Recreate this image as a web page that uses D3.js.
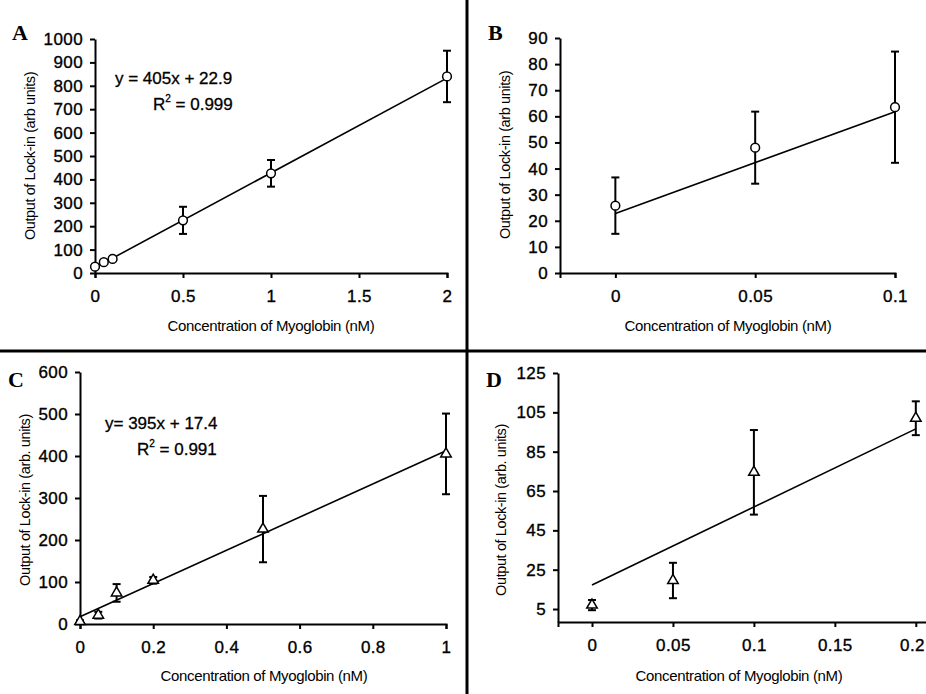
<!DOCTYPE html>
<html>
<head>
<meta charset="utf-8">
<script src="https://cdn.jsdelivr.net/npm/d3@7"></script>
<style>
  body { margin: 0; background: #fff; }
  text { font-family: "Liberation Sans", Arial, sans-serif; fill: #000; }
</style>
</head>
<body>
<script>
// panel A - circles
var aConc = [0, 0.05, 0.1, 0.5, 1, 2];
var aOut = [27, 46, 60, 225, 426, 840];
var aErr = [7, 7, 8, 58, 57, 110];
var aFit = [405, 22.9];
var aXTicks = [0, 0.5, 1, 1.5, 2];
var aYTicks = [0, 100, 200, 300, 400, 500, 600, 700, 800, 900, 1000];

// panel B - circles
var bConc = [0, 0.05, 0.1];
var bOut = [25.8, 48, 63.5];
var bErr = [10.8, 13.8, 21.3];
var bFit = [390, 22.8];
var bXTicks = [0, 0.05, 0.1];
var bYTicks = [0, 10, 20, 30, 40, 50, 60, 70, 80, 90];

// panel C - triangles
var cConc = [0, 0.05, 0.1, 0.2, 0.5, 1];
var cOut = [6, 21, 74, 104, 226, 405];
var cErr = [3, 8, 21, 8, 79, 96];
var cFit = [395, 17.4];
var cXTicks = [0, 0.2, 0.4, 0.6, 0.8, 1];
var cYTicks = [0, 100, 200, 300, 400, 500, 600];

// panel D - triangles
var dConc = [0, 0.05, 0.1, 0.2];
var dOut = [7, 19.5, 74.5, 102];
var dErr = [2.6, 9, 21.5, 8.6];
var dFit = [397, 17.2];
var dXTicks = [0, 0.05, 0.1, 0.15, 0.2];
var dYTicks = [5, 25, 45, 65, 85, 105, 125];

var xTitle = 'Concentration of Myoglobin (nM)';

var svg = d3.select('body').append('svg').attr('width', 926).attr('height', 694);

// dividers
svg.append('line').attr('x1', 0).attr('x2', 926).attr('y1', 351).attr('y2', 351)
  .attr('stroke', '#000').attr('stroke-width', 3);
svg.append('line').attr('x1', 467).attr('x2', 467).attr('y1', 0).attr('y2', 694)
  .attr('stroke', '#000').attr('stroke-width', 3);

function drawPanel(p) {
  var x = d3.scaleLinear().domain(p.xDom).range(p.xRange);
  var y = d3.scaleLinear().domain(p.yDom).range(p.yRange);
  var g = svg.append('g');

  var xAxis = d3.axisBottom(x).tickValues(p.xTicks).tickSize(5).tickSizeOuter(5).tickPadding(12)
    .tickFormat(function(d) { return String(d); });
  var yAxis = d3.axisLeft(y).tickValues(p.yTicks).tickSize(5).tickSizeOuter(0).tickPadding(7)
    .tickFormat(function(d) { return String(d); });

  var gx = g.append('g').attr('transform', 'translate(0,' + p.yRange[0] + ')').call(xAxis);
  var gy = g.append('g').attr('transform', 'translate(' + p.xRange[0] + ',0)').call(yAxis);
  [gx, gy].forEach(function(a) {
    a.select('.domain').attr('stroke', '#000').attr('stroke-width', 2);
    a.selectAll('.tick line').attr('stroke', '#000').attr('stroke-width', 2);
    a.selectAll('.tick text').attr('font-size', 17).attr('fill', '#000')
      .attr('stroke', '#000').attr('stroke-width', 0.35)
      .attr('font-family', '"Liberation Sans", Arial, sans-serif').style('letter-spacing', '0.4px');
  });
  // keep the last label inside the picture edge
  gx.selectAll('.tick text').attr('dx', function(d) {
    return x(d) + 14 > 926 ? (926 - 14 - x(d)) : 0;
  });

  // fit line
  var x0 = d3.min(p.conc), x1 = d3.max(p.conc);
  g.append('line')
    .attr('x1', x(x0)).attr('y1', y(p.fit[0] * x0 + p.fit[1]))
    .attr('x2', x(x1)).attr('y2', y(p.fit[0] * x1 + p.fit[1]))
    .attr('stroke', '#000').attr('stroke-width', 1.6);

  var pts = p.conc.map(function(c, i) { return {c: c, v: p.out[i], e: p.err[i]}; });

  // error bars
  var eb = g.selectAll('g.eb').data(pts).enter().append('g').attr('class', 'eb')
    .attr('stroke', '#000').attr('stroke-width', 2);
  eb.append('line')
    .attr('x1', function(d) { return x(d.c); }).attr('x2', function(d) { return x(d.c); })
    .attr('y1', function(d) { return y(d.v - d.e); }).attr('y2', function(d) { return y(d.v + d.e); });
  eb.append('line')
    .attr('x1', function(d) { return x(d.c) - 4; }).attr('x2', function(d) { return x(d.c) + 4; })
    .attr('y1', function(d) { return y(d.v + d.e); }).attr('y2', function(d) { return y(d.v + d.e); });
  eb.append('line')
    .attr('x1', function(d) { return x(d.c) - 4; }).attr('x2', function(d) { return x(d.c) + 4; })
    .attr('y1', function(d) { return y(d.v - d.e); }).attr('y2', function(d) { return y(d.v - d.e); });

  // markers
  var sym = d3.symbol().type(p.marker === 'tri' ? d3.symbolTriangle : d3.symbolCircle)
    .size(p.marker === 'tri' ? 48 : 60);
  g.selectAll('path.mk').data(pts).enter().append('path').attr('class', 'mk')
    .attr('d', sym)
    .attr('transform', function(d) { return 'translate(' + x(d.c) + ',' + y(d.v) + ')'; })
    .attr('fill', '#fff').attr('stroke', '#000').attr('stroke-width', 1.5);

  // titles
  g.append('text').attr('x', p.xt[0]).attr('y', p.xt[1]).attr('text-anchor', 'middle')
    .attr('dominant-baseline', 'central').attr('font-size', 15).style('letter-spacing', '-0.35px')
    .text(xTitle);
  g.append('text').attr('transform', 'translate(' + p.yt[0] + ',' + p.yt[1] + ') rotate(-90)')
    .attr('text-anchor', 'middle').attr('dominant-baseline', 'central')
    .attr('font-size', 14.5).style('letter-spacing', '-0.4px')
    .text(p.yTitle);

  // panel letter
  g.append('text').attr('x', p.letterPos[0]).attr('y', p.letterPos[1])
    .attr('font-family', '"Liberation Serif", "Times New Roman", serif')
    .style('font-family', '"Liberation Serif", "Times New Roman", serif')
    .attr('font-weight', 'bold').attr('font-size', 22).text(p.letter);

  // equation
  if (p.eq) {
    g.append('text').attr('x', p.eq.x).attr('y', p.eq.y).attr('font-size', 17)
      .attr('stroke', '#000').attr('stroke-width', 0.3).text(p.eq.line1);
    var r = g.append('text').attr('x', p.eq.rx).attr('y', p.eq.y + 26).attr('font-size', 17)
      .attr('stroke', '#000').attr('stroke-width', 0.3);
    r.append('tspan').text('R');
    r.append('tspan').attr('dy', -8).attr('font-size', 10).text('2');
    r.append('tspan').attr('dy', 8).text(' = ' + p.eq.r2);
  }
}

drawPanel({
  conc: aConc, out: aOut, err: aErr, fit: aFit, xTicks: aXTicks, yTicks: aYTicks,
  xDom: [0, 2], xRange: [95, 447], yDom: [0, 1000], yRange: [273, 39],
  marker: 'circle', letter: 'A', letterPos: [12, 40],
  xt: [271, 325], yt: [30, 156], yTitle: 'Output of Lock-in (arb units)',
  eq: {x: 115, y: 84, rx: 153, line1: 'y = 405x + 22.9', r2: '0.999'}
});
drawPanel({
  conc: bConc, out: bOut, err: bErr, fit: bFit, xTicks: bXTicks, yTicks: bYTicks,
  xDom: [-0.0198, 0.1], xRange: [560, 895], yDom: [0, 90], yRange: [273, 38],
  marker: 'circle', letter: 'B', letterPos: [488, 40],
  xt: [728, 325], yt: [505, 155], yTitle: 'Output of Lock-in (arb units)'
});
drawPanel({
  conc: cConc, out: cOut, err: cErr, fit: cFit, xTicks: cXTicks, yTicks: cYTicks,
  xDom: [0, 1], xRange: [80, 446], yDom: [0, 600], yRange: [624, 372],
  marker: 'tri', letter: 'C', letterPos: [8, 387],
  xt: [264, 675], yt: [25, 500], yTitle: 'Output of Lock-in (arb. units)',
  eq: {x: 105, y: 429, rx: 137, line1: 'y= 395x + 17.4', r2: '0.991'}
});
drawPanel({
  conc: dConc, out: dOut, err: dErr, fit: dFit, xTicks: dXTicks, yTicks: dYTicks,
  xDom: [-0.021, 0.21], xRange: [558, 932], yDom: [-1.6, 125], yRange: [622, 373],
  marker: 'tri', letter: 'D', letterPos: [486, 387],
  xt: [739, 675], yt: [501, 510], yTitle: 'Output of Lock-in (arb. units)'
});
</script>
</body>
</html>
